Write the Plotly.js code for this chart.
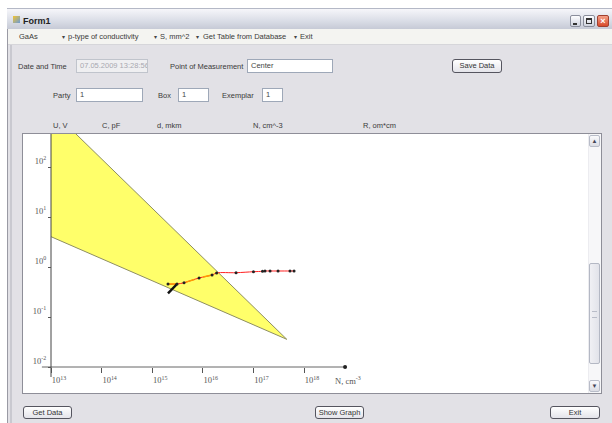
<!DOCTYPE html>
<html><head><meta charset="utf-8">
<script src="https://cdn.plot.ly/plotly-3.0.1.min.js"></script>
<style>
body{margin:0;width:612px;height:423px;overflow:hidden;background:#fff;font-family:"Liberation Sans",Arial,sans-serif;font-size:7.5px;color:#3a3a3a;position:relative}
.a{position:absolute}
.l{position:absolute;white-space:nowrap;line-height:10px}
.tb{position:absolute;background:#fff;border:1px solid #9ea8b8;box-sizing:border-box;font-size:7.5px;line-height:12px;padding-left:3px;color:#444;white-space:nowrap;overflow:hidden}
.btn{position:absolute;box-sizing:border-box;border:1px solid #55555f;border-radius:3px;background:linear-gradient(#ffffff,#e4e4ea);text-align:center;font-size:7.5px;color:#333;white-space:nowrap}
.arr{position:absolute;font-size:6px;line-height:10px;color:#444;font-family:"DejaVu Sans",sans-serif}
</style></head>
<body>
<!-- window frame -->
<div class="a" style="left:7px;top:8px;width:605px;height:415px;background:#e2e1e6;border-left:1px solid #9a9aa4;box-sizing:border-box"></div>
<div class="a" style="left:10px;top:45px;width:2px;height:378px;background:#c9c9d0"></div>
<!-- title bar -->
<div class="a" style="left:7px;top:8px;width:605px;height:21px;background:linear-gradient(#f6f6fa,#dcdfe8 55%,#c6cad6);border-top:1px solid #b4b8c6;box-sizing:border-box"></div>
<div class="a" style="left:13px;top:16px;width:7px;height:7px;background:linear-gradient(135deg,#f4c430,#6a9bd8)"></div>
<div class="l" style="left:23px;top:16px;font-weight:bold;font-size:9px;color:#222">Form1</div>
<div class="a" style="left:570px;top:15px;width:11px;height:12px;border:1px solid #8a8e9c;border-radius:2px;background:linear-gradient(#fdfdff,#cfd3de);box-sizing:border-box"></div>
<div class="a" style="left:573px;top:23px;width:4px;height:2px;background:#333"></div>
<div class="a" style="left:583px;top:15px;width:12px;height:12px;border:1px solid #8a8e9c;border-radius:2px;background:linear-gradient(#fdfdff,#cfd3de);box-sizing:border-box"></div>
<div class="a" style="left:586px;top:18px;width:6px;height:6px;border:1px solid #333;border-top-width:2px;box-sizing:border-box"></div>
<div class="a" style="left:597px;top:15px;width:12px;height:12px;border:1px solid #a04030;border-radius:2px;background:linear-gradient(#f4a088,#d84a2a);box-sizing:border-box;color:#fff;font-size:9px;line-height:10px;text-align:center;font-weight:bold">×</div>
<!-- menu bar -->
<div class="a" style="left:8px;top:29px;width:604px;height:16px;background:#f4f4f1;border-bottom:1px solid #d6d6da;box-sizing:border-box"></div>
<div class="l" style="left:19px;top:32px">GaAs</div>
<div class="arr" style="left:62px;top:32px">▾</div>
<div class="l" style="left:68px;top:32px">p-type of conductivity</div>
<div class="arr" style="left:154px;top:32px">▾</div>
<div class="l" style="left:160px;top:32px">S, mm^2</div>
<div class="arr" style="left:196px;top:32px">▾</div>
<div class="l" style="left:203px;top:32px">Get Table from Database</div>
<div class="arr" style="left:294px;top:32px">▾</div>
<div class="l" style="left:300px;top:32px">Exit</div>
<!-- row 2 -->
<div class="l" style="left:18px;top:62px">Date and Time</div>
<div class="tb" style="left:76px;top:59px;width:72px;height:14px;background:#efeff1;color:#a8a8b0;border-color:#c0c4cc">07.05.2009 13:28:56</div>
<div class="l" style="left:170px;top:62px">Point of Measurement</div>
<div class="tb" style="left:247px;top:59px;width:86px;height:14px">Center</div>
<div class="btn" style="left:452px;top:59px;width:50px;height:14px;line-height:12px">Save Data</div>
<!-- row 3 -->
<div class="l" style="left:53px;top:91px">Party</div>
<div class="tb" style="left:76px;top:88px;width:67px;height:14px">1</div>
<div class="l" style="left:158px;top:91px">Box</div>
<div class="tb" style="left:178px;top:88px;width:31px;height:14px">1</div>
<div class="l" style="left:222px;top:91px">Exemplar</div>
<div class="tb" style="left:262px;top:88px;width:21px;height:14px">1</div>
<!-- row 4 headers -->
<div class="l" style="left:53px;top:121px">U, V</div>
<div class="l" style="left:102px;top:121px">C, pF</div>
<div class="l" style="left:157px;top:121px">d, mkm</div>
<div class="l" style="left:253px;top:121px">N, cm^-3</div>
<div class="l" style="left:363px;top:121px">R, om*cm</div>
<!-- chart panel -->
<div class="a" style="left:22px;top:133px;width:580px;height:261px;background:#fff;border:1px solid #8e8e98;box-sizing:border-box"></div>
<div id="plot" class="a" style="left:23px;top:134px;width:565px;height:259px"></div>
<!-- scrollbar -->
<div class="a" style="left:588px;top:134px;width:13px;height:259px;background:#f7f7f9;border-left:1px solid #ececf0;box-sizing:border-box"></div>
<div class="a" style="left:589px;top:135px;width:11px;height:12px;border:1px solid #b8bcc8;border-radius:2px;background:linear-gradient(#fafafc,#dcdde4);box-sizing:border-box;font-size:6px;line-height:10px;text-align:center;color:#445">▲</div>
<div class="a" style="left:589px;top:263px;width:11px;height:101px;border:1px solid #b4b8c4;border-radius:2px;background:linear-gradient(90deg,#f0f0f4,#e2e3ea);box-sizing:border-box"></div>
<div class="a" style="left:592px;top:311px;width:5px;height:5px;border-top:1px solid #b8bcc8;border-bottom:1px solid #b8bcc8"></div>
<div class="a" style="left:589px;top:380px;width:11px;height:12px;border:1px solid #b8bcc8;border-radius:2px;background:linear-gradient(#fafafc,#dcdde4);box-sizing:border-box;font-size:6px;line-height:10px;text-align:center;color:#445">▼</div>
<!-- bottom buttons -->
<div class="btn" style="left:23px;top:406px;width:49px;height:13px;line-height:11px">Get Data</div>
<div class="btn" style="left:315px;top:406px;width:49px;height:13px;line-height:11px">Show Graph</div>
<div class="btn" style="left:550px;top:406px;width:50px;height:13px;line-height:11px">Exit</div>

<script>
// ---- data ----
const xTicks = [1e13, 1e14, 1e15, 1e16, 1e17, 1e18];
const xTickText = ['10<sup>13</sup>','10<sup>14</sup>','10<sup>15</sup>','10<sup>16</sup>','10<sup>17</sup>','10<sup>18</sup>'];
const yTicks = [1e-2, 1e-1, 1, 10, 100];
const yTickText = ['10<sup>-2</sup>','10<sup>-1</sup>','10<sup>0</sup>','10<sup>1</sup>','10<sup>2</sup>'];

// allowed region (yellow triangle)
const regionN = [1e13, 4.55e17, 1e13];
const regionR = [1403, 0.0358, 4.04];

// measured profile
const curveN = [2.05e15, 3.09e15, 4.25e15, 8.41e15, 1.52e16, 1.87e16, 4.53e16, 1.00e17, 1.51e17, 1.69e17, 2.13e17, 3.06e17, 5.28e17, 6.34e17];
const curveR = [0.457, 0.457, 0.485, 0.603, 0.692, 0.759, 0.769, 0.805, 0.820, 0.832, 0.832, 0.832, 0.832, 0.832];

// orange dashed initial part
const startN = [2.05e15, 3.09e15, 4.25e15, 8.41e15, 1.52e16];
const startR = [0.457, 0.457, 0.485, 0.603, 0.692];

// black thick start segment
const tailN = [2.05e15, 3.09e15];
const tailR = [0.298, 0.457];

// ---- axis decoration lines derived from tick values ----
const xAxN = [xTicks[0] / Math.pow(10, 0.18), xTicks[xTicks.length-1] * Math.pow(10, 0.81)];
const xAxR = [yTicks[0], yTicks[0]];
const yAxN = [xTicks[0], xTicks[0]];
const yAxR = [yTicks[0] / Math.pow(10, 0.2), yTicks[yTicks.length-1] * 10];

const traces = [
  {x: regionN, y: regionR, mode: 'lines', fill: 'toself', fillcolor: '#ffff6a',
   line: {color: '#8e8e62', width: 1}, hoverinfo: 'skip'},
  {x: xAxN, y: xAxR, mode: 'lines', line: {color: '#666', width: 1}, hoverinfo: 'skip'},
  {x: [xAxN[1]], y: [xAxR[1]], mode: 'markers', marker: {color: '#222', size: 4}, hoverinfo: 'skip'},
  {x: yAxN, y: yAxR, mode: 'lines', line: {color: '#444', width: 1}, hoverinfo: 'skip'},
  {x: curveN, y: curveR, mode: 'lines', line: {color: '#ff2020', width: 1, shape: 'spline'}},
  {x: startN, y: startR, mode: 'lines', line: {color: '#ff9a00', width: 1.5, dash: 'dash'}},
  {x: tailN, y: tailR, mode: 'lines', line: {color: '#111', width: 2.5}},
  {x: curveN, y: curveR, mode: 'markers', marker: {color: '#222', size: 3}}
];

const layout = {
  width: 565, height: 259,
  margin: {l: 0, r: 0, t: 0, b: 0, pad: 0},
  paper_bgcolor: '#fff', plot_bgcolor: '#fff',
  showlegend: false,
  xaxis: {type: 'log', range: [12.4466, 23.61], anchor: 'free', position: 0.1004,
          showline: false, showgrid: false, zeroline: false,
          tickmode: 'array', tickvals: xTicks, ticktext: xTickText,
          ticks: 'outside', ticklen: 5, tickcolor: '#555', tickwidth: 1,
          tickfont: {family: 'Liberation Serif, serif', size: 8.5, color: '#555'},
          ticklabelshift: 8, fixedrange: true},
  yaxis: {type: 'log', range: [-2.52, 2.66], anchor: 'free', position: 0.0496,
          showline: false, showgrid: false, zeroline: false,
          tickmode: 'array', tickvals: yTicks, ticktext: yTickText,
          ticks: 'outside', ticklen: 3, tickcolor: '#555', tickwidth: 1,
          tickfont: {family: 'Liberation Serif, serif', size: 8.5, color: '#555'},
          ticklabelshift: -6, fixedrange: true},
  annotations: [
    {xref: 'paper', yref: 'paper', x: 0.549, y: 0.05, xanchor: 'left', yanchor: 'middle',
     text: 'N, cm<sup>-3</sup>', showarrow: false,
     font: {family: 'Liberation Serif, serif', size: 8.5, color: '#555'}}
  ]
};

Plotly.newPlot('plot', traces, layout, {staticPlot: true, displayModeBar: false});
</script>
</body></html>
